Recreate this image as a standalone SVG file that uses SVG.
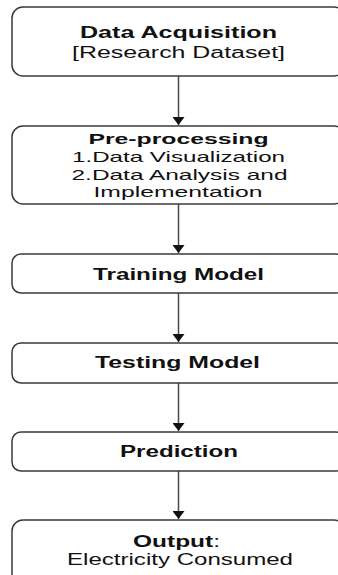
<svg xmlns="http://www.w3.org/2000/svg" width="338" height="575" viewBox="0 0 338 575">
<style>
.box{fill:#fff;stroke:#3a3a3a;stroke-width:1.5}
.t{font-family:"Liberation Sans",Arial,sans-serif;fill:#111;text-anchor:middle}
.b{font-weight:bold}
.c{stroke:#4a4a4a;stroke-width:1.5;fill:none}
</style>
<defs>
<marker id="ah" viewBox="0 0 8 12" refX="8" refY="6" markerWidth="8" markerHeight="12" markerUnits="userSpaceOnUse" orient="auto">
<path d="M0,0 L8,6 L0,12 Z" fill="#111"/>
</marker>
</defs>
<rect width="338" height="575" fill="#fff"/>
<g id="connectors">
<line class="c" x1="178.5" y1="76" x2="178.5" y2="125" marker-end="url(#ah)"/>
<line class="c" x1="178.5" y1="204" x2="178.5" y2="253" marker-end="url(#ah)"/>
<line class="c" x1="178.5" y1="293" x2="178.5" y2="342" marker-end="url(#ah)"/>
<line class="c" x1="178.5" y1="383" x2="178.5" y2="431" marker-end="url(#ah)"/>
<line class="c" x1="178.5" y1="471" x2="178.5" y2="519" marker-end="url(#ah)"/>
</g>
<g id="n1">
<rect class="box" x="12" y="7" width="333" height="69" rx="11" ry="11"/>
<text class="t b" x="178.5" y="38" font-size="16" textLength="197" lengthAdjust="spacingAndGlyphs">Data Acquisition</text>
<text class="t" x="178.5" y="58" font-size="16" textLength="213" lengthAdjust="spacingAndGlyphs">[Research Dataset]</text>
</g>
<g id="n2">
<rect class="box" x="12" y="126" width="333" height="78" rx="11" ry="11"/>
<text class="t b" x="178.5" y="143.5" font-size="15" textLength="180" lengthAdjust="spacingAndGlyphs">Pre-processing</text>
<text class="t" x="178.5" y="162" font-size="15" textLength="213" lengthAdjust="spacingAndGlyphs">1.Data Visualization</text>
<text class="t" x="179.5" y="179.5" font-size="15" textLength="216" lengthAdjust="spacingAndGlyphs">2.Data Analysis and</text>
<text class="t" x="178" y="197" font-size="15" textLength="169" lengthAdjust="spacingAndGlyphs">Implementation</text>
</g>
<g id="n3">
<rect class="box" x="12" y="254" width="333" height="39" rx="9" ry="9"/>
<text class="t b" x="178.5" y="280" font-size="16" textLength="171" lengthAdjust="spacingAndGlyphs">Training Model</text>
</g>
<g id="n4">
<rect class="box" x="12" y="343" width="333" height="40" rx="9" ry="9"/>
<text class="t b" x="177.5" y="368" font-size="16" textLength="165" lengthAdjust="spacingAndGlyphs">Testing Model</text>
</g>
<g id="n5">
<rect class="box" x="12" y="432" width="333" height="39" rx="9" ry="9"/>
<text class="t b" x="179" y="457" font-size="16" textLength="118" lengthAdjust="spacingAndGlyphs">Prediction</text>
</g>
<g id="n6">
<rect class="box" x="12" y="520" width="333" height="70" rx="11" ry="11"/>
<text class="t" x="176.5" y="547" font-size="16" textLength="87" lengthAdjust="spacingAndGlyphs"><tspan class="b">Output</tspan>:</text>
<text class="t" x="180" y="565" font-size="16" textLength="226" lengthAdjust="spacingAndGlyphs">Electricity Consumed</text>
</g>
</svg>
